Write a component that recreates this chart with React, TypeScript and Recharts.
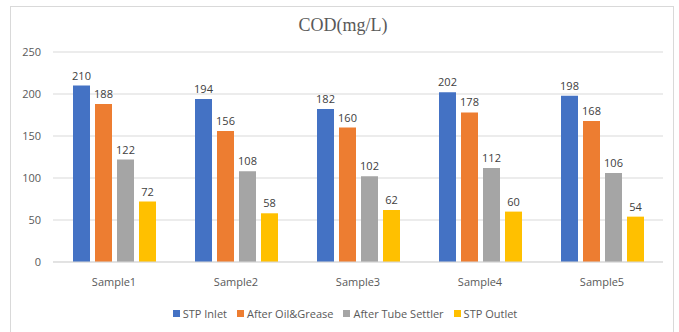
import { BarChart, Bar, XAxis, YAxis, CartesianGrid, Legend, LabelList } from 'recharts';

const categories = ['Sample1', 'Sample2', 'Sample3', 'Sample4', 'Sample5'];
const stpInlet = [210, 194, 182, 202, 198];
const afterOilGrease = [188, 156, 160, 178, 168];
const afterTubeSettler = [122, 108, 102, 112, 106];
const stpOutlet = [72, 58, 62, 60, 54];
const yTicks = [0, 50, 100, 150, 200, 250];

const series = [
  { key: 'inlet', name: 'STP Inlet', values: stpInlet, color: '#4472C4' },
  { key: 'oil', name: 'After Oil&Grease', values: afterOilGrease, color: '#ED7D31' },
  { key: 'tube', name: 'After Tube Settler', values: afterTubeSettler, color: '#A5A5A5' },
  { key: 'outlet', name: 'STP Outlet', values: stpOutlet, color: '#FFC000' },
];

const data = categories.map((c, i) => {
  const row: Record<string, string | number> = { name: c };
  series.forEach((s) => (row[s.key] = s.values[i]));
  return row;
});

const font = '"Open Sans", "Liberation Sans", sans-serif';

// legend in series order, Excel style
const renderLegend = () => (
  <div style={{ height: 20, display: 'flex', justifyContent: 'center', alignItems: 'center', gap: 10, fontSize: 11, color: '#595959', fontFamily: font }}>
    {series.map((s) => (
      <div key={s.key} style={{ display: 'flex', alignItems: 'center' }}>
        <span style={{ display: 'inline-block', width: 7, height: 7, background: s.color, marginRight: 3 }} />
        {s.name}
      </div>
    ))}
  </div>
);

export default function App() {
  return (
    <div style={{ position: 'absolute', left: 0, top: 0, width: 679, height: 332, background: '#fff', overflow: 'hidden', fontFamily: font }}>
      <div style={{ position: 'absolute', left: 10, top: 6, width: 664, height: 340, border: '1px solid #d9d9d9', boxSizing: 'border-box' }} />
      <div style={{ position: 'absolute', left: 0, top: 15, width: 686, textAlign: 'center', fontFamily: '"Liberation Serif", "Times New Roman", serif', fontSize: 18, color: '#595959' }}>
        COD(mg/L)
      </div>
      <BarChart
        width={679}
        height={332}
        data={data}
        margin={{ top: 52, right: 16, left: 10, bottom: 20 }}
        barSize={17}
        barGap={5}
        style={{ position: 'absolute', left: 0, top: 0 }}
      >
        <CartesianGrid vertical={false} stroke="#d9d9d9" />
        <XAxis
          dataKey="name"
          height={30}
          tickLine={false}
          axisLine={{ stroke: '#d9d9d9' }}
          tick={{ fontSize: 11, fill: '#595959', fontFamily: font }}
          tickMargin={10}
        />
        <YAxis
          domain={[0, 250]}
          ticks={yTicks}
          width={43}
          tickLine={false}
          axisLine={false}
          tick={{ fontSize: 11, fill: '#595959', fontFamily: font }}
          tickMargin={6}
        />
        <Legend verticalAlign="bottom" height={20} content={renderLegend} wrapperStyle={{ bottom: 9, left: 0, width: 690 }} />
        {series.map((s) => (
          <Bar key={s.key} dataKey={s.key} name={s.name} fill={s.color} isAnimationActive={false}>
            <LabelList dataKey={s.key} position="top" offset={6} fill="#404040" fontSize={11} fontFamily={font} />
          </Bar>
        ))}
      </BarChart>
    </div>
  );
}
